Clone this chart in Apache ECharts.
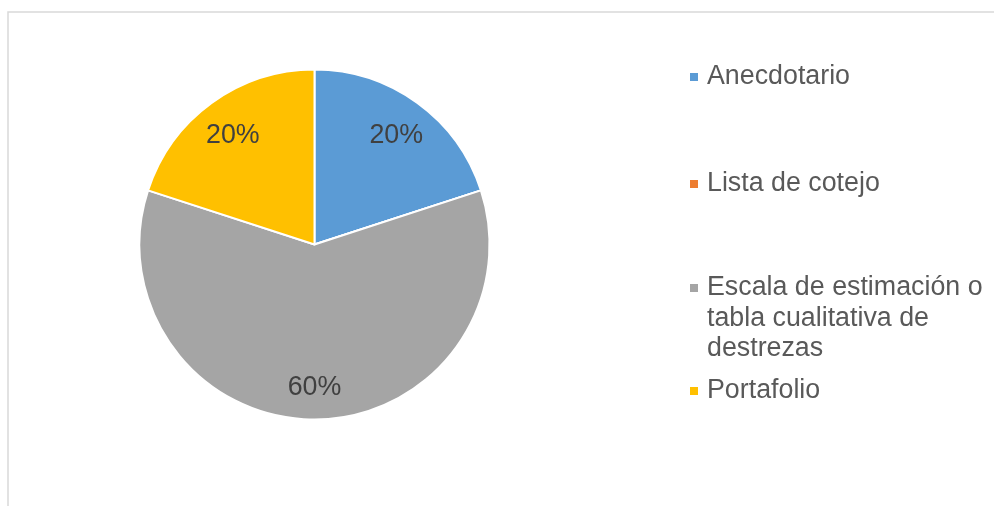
<!DOCTYPE html>
<html><head><meta charset="utf-8">
<script src="https://cdn.jsdelivr.net/npm/echarts@6/dist/echarts.min.js"></script>
<style>html,body{margin:0;padding:0;background:#fff}#c{width:994px;height:506px}</style>
</head><body><div id="c"></div>
<script>
const categories = ['Anecdotario', 'Lista de cotejo', 'Escala de estimación o tabla cualitativa de destrezas', 'Portafolio'];
const values = [20, 0, 60, 20];
const colors = ['#5B9BD5', '#ED7D31', '#A5A5A5', '#FFC000'];
// first line shown by the legend item; following lines drawn as text under it
const legendLines = {
  'Escala de estimación o tabla cualitativa de destrezas': ['Escala de estimación o', 'tabla cualitativa de', 'destrezas']
};
const legendTops = [62, 169, 273, 376];

const FONT = 'Liberation Sans, Arial, sans-serif';
const FS = 26.8;
const chart = echarts.init(document.getElementById('c'));
const mainData = categories.map((n, i) => ({ name: n, value: values[i], itemStyle: { color: colors[i] } }));
const labelData = categories.map((n, i) => ({
  name: n, value: values[i],
  label: { show: values[i] > 0 }
}));

const legends = categories.map((n, i) => ({
  data: [n],
  orient: 'vertical',
  left: 690,
  top: legendTops[i],
  padding: 0,
  icon: 'rect',
  itemWidth: 8,
  itemHeight: 8,
  itemStyle: { borderWidth: 0 },
  selectedMode: false,
  formatter: name => legendLines[name] ? legendLines[name][0] : name,
  textStyle: {
    fontFamily: FONT,
    fontSize: FS,
    color: '#595959',
    lineHeight: 30,
    padding: [0, 0, 0, 4]
  }
}));

const extraText = [];
categories.forEach((n, i) => {
  if (legendLines[n]) {
    legendLines[n].slice(1).forEach((line, k) => {
      extraText.push({
        type: 'text',
        left: 707,
        top: legendTops[i] + 30.5 * (k + 1),
        style: { text: line, font: FS + 'px ' + FONT, fill: '#595959', lineHeight: 30, textVerticalAlign: 'top' }
      });
    });
  }
});

chart.setOption({
  animation: false,
  backgroundColor: '#fff',
  legend: legends,
  graphic: [{
    type: 'polyline',
    shape: { points: [[8, 506], [8, 12], [994, 12]] },
    style: { stroke: '#D9D9D9', lineWidth: 1.5, fill: null }
  }].concat(extraText),
  series: [{
    type: 'pie',
    center: [314.5, 244.5],
    radius: 175,
    startAngle: 90,
    clockwise: true,
    label: { show: false },
    labelLine: { show: false },
    itemStyle: { borderColor: '#fff', borderWidth: 2 },
    emphasis: { disabled: true },
    data: mainData
  }, {
    type: 'pie',
    center: [314.5, 248.5],
    radius: [0, 272],
    startAngle: 90,
    clockwise: true,
    silent: true,
    itemStyle: { color: 'rgba(0,0,0,0)' },
    label: {
      position: 'inside',
      formatter: p => p.value + '%',
      fontFamily: FONT,
      fontSize: FS,
      color: '#404040'
    },
    labelLine: { show: false },
    emphasis: { disabled: true },
    data: labelData
  }]
});
</script></body></html>
